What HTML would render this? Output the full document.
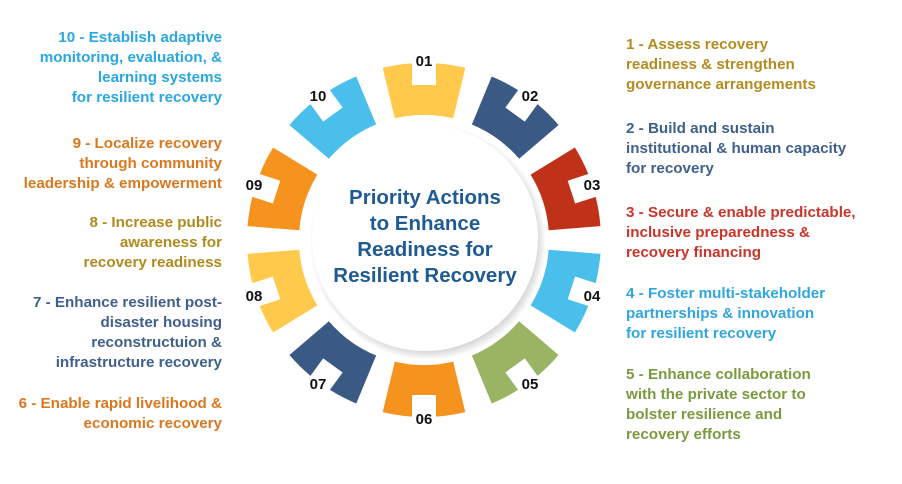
<!DOCTYPE html>
<html><head><meta charset="utf-8"><style>
html,body{margin:0;padding:0;background:#fff;width:902px;height:484px;overflow:hidden}
svg text{font-family:"Liberation Sans",sans-serif;font-weight:bold}
</style></head><body>
<svg width="902" height="484" viewBox="0 0 902 484" xmlns="http://www.w3.org/2000/svg">
<defs>
<path id="seg" d="M -29.2 -121.6 L -41.3 -172.1 A 177 177 0 0 1 -12 -176.6 L -12 -155 L 12 -155 L 12 -176.6 A 177 177 0 0 1 41.3 -172.1 L 29.2 -121.6 A 125 125 0 0 0 -29.2 -121.6 Z"/>
<radialGradient id="sh" cx="0.5" cy="0.5" r="0.5"><stop offset="0.88" stop-color="#999" stop-opacity="0.6"/><stop offset="1" stop-color="#999" stop-opacity="0"/></radialGradient>
</defs>
<g transform="translate(424,240)">
<use href="#seg" fill="#FFC94B" transform="rotate(0)"/>
<use href="#seg" fill="#3A5A85" transform="rotate(36)"/>
<use href="#seg" fill="#C0311A" transform="rotate(72)"/>
<use href="#seg" fill="#4BBFEC" transform="rotate(108)"/>
<use href="#seg" fill="#9BB464" transform="rotate(144)"/>
<use href="#seg" fill="#F6921E" transform="rotate(180)"/>
<use href="#seg" fill="#3A5A85" transform="rotate(216)"/>
<use href="#seg" fill="#FFC94B" transform="rotate(252)"/>
<use href="#seg" fill="#F6921E" transform="rotate(288)"/>
<use href="#seg" fill="#4BBFEC" transform="rotate(324)"/>
</g>
<circle cx="428" cy="242" r="118" fill="url(#sh)"/>
<circle cx="425" cy="238" r="113" fill="#fff"/>
<g fill="#1F5A92" font-size="20.5" text-anchor="middle">
<text x="425" y="204">Priority Actions</text>
<text x="425" y="230">to Enhance</text>
<text x="425" y="256">Readiness for</text>
<text x="425" y="282">Resilient Recovery</text>
</g>
<g fill="#111" font-size="15" text-anchor="middle">
<text x="424" y="66">01</text>
<text x="530" y="101">02</text>
<text x="592" y="190">03</text>
<text x="592" y="301">04</text>
<text x="530" y="389">05</text>
<text x="424" y="424">06</text>
<text x="318" y="389">07</text>
<text x="254" y="301">08</text>
<text x="254" y="190">09</text>
<text x="318" y="101">10</text>
</g>
<g font-size="15.2" text-anchor="end">
<g fill="#29A8E0"><text x="222" y="42">10 - Establish adaptive</text><text x="222" y="62">monitoring, evaluation, &amp;</text><text x="222" y="82">learning systems</text><text x="222" y="102">for resilient recovery</text></g>
<g fill="#D9781E"><text x="222" y="148">9 - Localize recovery</text><text x="222" y="168">through community</text><text x="222" y="188">leadership &amp; empowerment</text></g>
<g fill="#B08A1E"><text x="222" y="227">8 - Increase public</text><text x="222" y="247">awareness  for</text><text x="222" y="267">recovery readiness</text></g>
<g fill="#3F5F8C"><text x="222" y="307">7 - Enhance resilient post-</text><text x="222" y="327">disaster housing</text><text x="222" y="347">reconstructuion &amp;</text><text x="222" y="367">infrastructure recovery</text></g>
<g fill="#D9781E"><text x="222" y="408">6 - Enable rapid livelihood &amp;</text><text x="222" y="428">economic recovery</text></g>
</g>
<g font-size="15.2" text-anchor="start">
<g fill="#B38B20"><text x="626" y="49">1 - Assess recovery</text><text x="626" y="69">readiness &amp; strengthen</text><text x="626" y="89">governance arrangements</text></g>
<g fill="#3F5F8C"><text x="626" y="133">2 - Build and sustain</text><text x="626" y="153">institutional &amp; human capacity</text><text x="626" y="173">for recovery</text></g>
<g fill="#C8352A"><text x="626" y="217">3 - Secure &amp; enable predictable,</text><text x="626" y="237">inclusive preparedness &amp;</text><text x="626" y="257">recovery financing</text></g>
<g fill="#2FA6DE"><text x="626" y="298">4 - Foster multi-stakeholder</text><text x="626" y="318">partnerships &amp; innovation</text><text x="626" y="338">for resilient recovery</text></g>
<g fill="#7A9A3E"><text x="626" y="379">5 - Enhance collaboration</text><text x="626" y="399">with the private sector to</text><text x="626" y="419">bolster resilience and</text><text x="626" y="439">recovery efforts</text></g>
</g>
</svg>
</body></html>
